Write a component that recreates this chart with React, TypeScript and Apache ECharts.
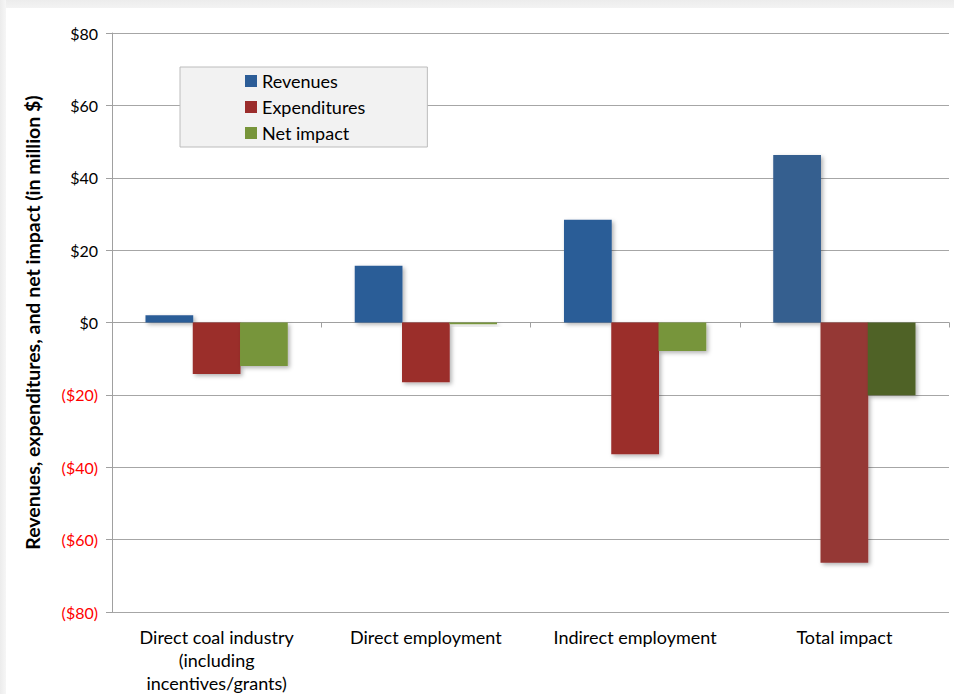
import React, { useEffect, useRef } from "react";
import * as echarts from "echarts";

const categories = [
  "Direct coal industry\n(including\nincentives/grants)",
  "Direct employment",
  "Indirect employment",
  "Total impact",
];
const seriesNames = ["Revenues", "Expenditures", "Net impact"];
const revenues = [2.0, 15.7, 28.4, 46.3];
const expenditures = [-14.2, -16.5, -36.4, -66.4];
const netImpact = [-12.0, -0.5, -7.9, -20.1];
const yTicks = { min: -80, max: 80, interval: 20 };

const baseColors = ["#2c5d97", "#9b2d2c", "#77953a"];
const totalColors = ["#355f8f", "#953735", "#4f6228"];

const FONT = "Lato, 'Open Sans', sans-serif";

export default function App() {
  const ref = useRef<HTMLDivElement>(null);
  useEffect(() => {
    if (!ref.current) return;
    const chart = echarts.init(ref.current, null, { renderer: "svg" });
    const values = [revenues, expenditures, netImpact];
    const series = values.map((arr, si) => ({
      name: seriesNames[si],
      type: "bar",
      xAxisIndex: 0,
      barGap: "-1%",
      barCategoryGap: "32%",
      itemStyle: {
        color: baseColors[si],
        shadowBlur: 4,
        shadowColor: "rgba(0,0,0,0.3)",
        shadowOffsetX: 2,
        shadowOffsetY: 2,
      },
      data: arr.map((v, i) =>
        i === arr.length - 1
          ? { value: v, itemStyle: { color: totalColors[si] } }
          : { value: v }
      ),
    }));
    chart.setOption({
      animation: false,
      backgroundColor: "#ffffff",
      textStyle: { fontFamily: FONT },
      color: baseColors,
      graphic: [
        {
          type: "rect",
          shape: { x: 0, y: 0, width: 954, height: 8 },
          style: {
            fill: new echarts.graphic.LinearGradient(0, 0, 0, 1, [
              { offset: 0, color: "#ececec" },
              { offset: 1, color: "#f3f3f3" },
            ]),
          },
          silent: true,
        },
        {
          type: "rect",
          shape: { x: 0, y: 0, width: 6, height: 694 },
          style: {
            fill: new echarts.graphic.LinearGradient(0, 0, 1, 0, [
              { offset: 0, color: "#ececec" },
              { offset: 1, color: "#f6f6f6" },
            ]),
          },
          silent: true,
        },
      ],
      legend: {
        orient: "vertical",
        left: 180,
        top: 67,
        backgroundColor: "#f2f2f2",
        borderColor: "#bcbcbc",
        borderWidth: 1,
        borderRadius: 0,
        padding: [5, 62, 5, 65],
        itemWidth: 12,
        itemHeight: 12,
        itemGap: 8,
        icon: "rect",
        data: seriesNames,
        textStyle: { fontFamily: FONT, fontSize: 18, color: "#000000" },
      },
      grid: { left: 112, right: 5, top: 33, bottom: 70, containLabel: false },
      xAxis: [
        {
          type: "category",
          data: categories,
          axisLine: { show: true, onZero: true, lineStyle: { color: "#a0a0a0", width: 1 } },
          axisTick: { show: true, length: 5, interval: 0, lineStyle: { color: "#a0a0a0" } },
          axisLabel: { show: false },
          splitLine: { show: false },
        },
        {
          type: "category",
          data: categories,
          position: "bottom",
          axisLine: { show: false, onZero: false },
          axisTick: { show: false },
          axisLabel: {
            show: true,
            interval: 0,
            margin: 13,
            fontFamily: FONT,
            fontSize: 18,
            lineHeight: 23,
            color: "#000000",
          },
        },
      ],
      yAxis: {
        type: "value",
        min: yTicks.min,
        max: yTicks.max,
        interval: yTicks.interval,
        name: "Revenues, expenditures, and net impact (in million $)",
        nameLocation: "middle",
        nameRotate: 90,
        nameGap: 70,
        nameTextStyle: { fontFamily: FONT, fontSize: 19.5, fontWeight: "bold", color: "#000000" },
        axisLine: { show: true, lineStyle: { color: "#a0a0a0", width: 1 } },
        axisTick: { show: true, length: 6, lineStyle: { color: "#a0a0a0" } },
        axisLabel: {
          margin: 14,
          fontFamily: FONT,
          fontSize: 16,
          formatter: (v: number) => (v >= 0 ? `$${v}` : `($${-v})`),
          color: (v: any) => (Number(v) < 0 ? "#ff0000" : "#000000"),
        },
        splitLine: { show: true, lineStyle: { color: "#a6a6a6", width: 1 } },
      },
      series,
    });
    return () => chart.dispose();
  }, []);
  return (
    <div
      ref={ref}
      style={{ position: "fixed", left: 0, top: 0, width: 954, height: 694 }}
    />
  );
}
